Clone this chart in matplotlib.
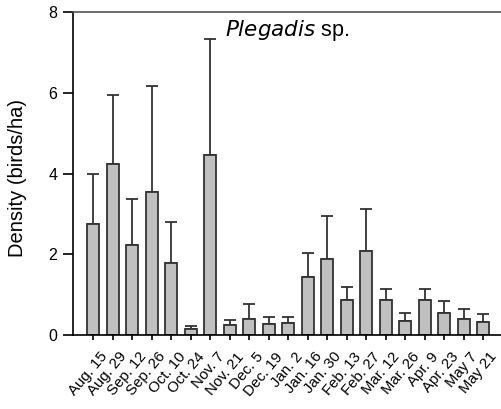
import matplotlib
matplotlib.use("Agg")
from matplotlib import pyplot as plt
from matplotlib import transforms
import numpy as np

plt.rcParams['font.family'] = ['Liberation Sans', 'DejaVu Sans']

dates = ["Aug. 15", "Aug. 29", "Sep. 12", "Sep. 26", "Oct. 10", "Oct. 24", "Nov. 7",
         "Nov. 21", "Dec. 5", "Dec. 19", "Jan. 2", "Jan. 16", "Jan. 30", "Feb. 13",
         "Feb. 27", "Mar. 12", "Mar. 26", "Apr. 9", "Apr. 23", "May 7", "May 21"]
density = [2.74, 4.23, 2.24, 3.53, 1.79, 0.14, 4.46, 0.25, 0.39, 0.28, 0.29,
           1.43, 1.89, 0.87, 2.09, 0.87, 0.35, 0.87, 0.55, 0.39, 0.31]
err_top = [3.99, 5.94, 3.37, 6.17, 2.79, 0.23, 7.34, 0.36, 0.76, 0.45, 0.45,
           2.04, 2.95, 1.20, 3.12, 1.15, 0.54, 1.15, 0.85, 0.64, 0.53]
yticks = [0, 2, 4, 6, 8]

x = np.arange(len(dates))
upper = np.array(err_top) - np.array(density)
lower = np.zeros(len(dates))

fig = plt.figure(figsize=(5.02, 4.09), dpi=100)
ax = fig.add_axes([73 / 502, 1 - 335 / 409, 1 - 73 / 502, (335 - 12) / 409])

ax.bar(x, density, width=0.62, color="#c0c0c0", edgecolor="#333333", linewidth=1.3, zorder=2)
ax.errorbar(x, density, yerr=[lower, upper], fmt="none", ecolor="#333333",
            elinewidth=1.3, capsize=4.3, capthick=1.3, zorder=1)

ax.set_xlim(-1.03, 20.97)
ax.set_ylim(0, 8)
ax.set_yticks(yticks)
ax.set_xticks(x)
ax.set_xticklabels(dates, rotation=50, ha="right", va="top", rotation_mode="anchor", fontsize=10.8)
ax.tick_params(axis="y", length=7.2, width=1.2, labelsize=11.5, pad=4)
ax.tick_params(axis="x", length=3.6, width=1.2, pad=7)

# nudge the slanted date labels a little to the right, as in the original
shift = transforms.ScaledTranslation(4.5 / 72, 0, fig.dpi_scale_trans)
for lbl in ax.get_xticklabels():
    lbl.set_transform(lbl.get_transform() + shift)

ax.spines["right"].set_visible(False)
ax.spines["top"].set_color("#555555")
ax.spines["top"].set_linewidth(1.2)
ax.spines["left"].set_linewidth(1.2)
ax.spines["bottom"].set_linewidth(1.2)

fig.text(18 / 502, 1 - 178 / 409, "Density (birds/ha)", rotation=90,
         ha="center", va="center", fontsize=14.5)
ax.text(0.5, 0.944, r"$\mathit{Plegadis}$ sp.", transform=ax.transAxes,
        ha="center", va="center", fontsize=15.5)

fig.savefig("out.png", dpi=100)
